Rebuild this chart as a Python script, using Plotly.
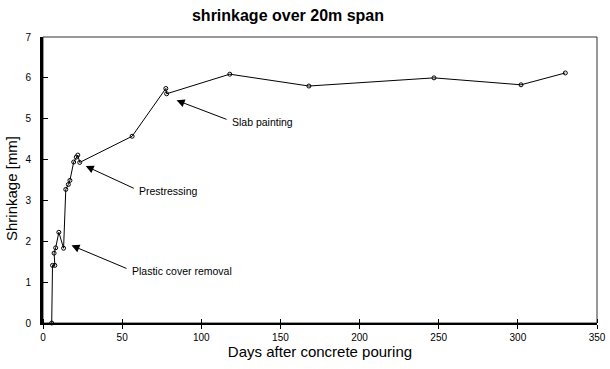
import plotly.graph_objects as go

# Data (days after pouring, shrinkage in mm)
days = [5.5, 6, 7.5, 7, 8, 10, 13, 14.4, 16, 17, 19.4, 21, 22, 23.2,
        56.3, 77.6, 78.1, 118, 168, 247, 302, 330]
shrinkage = [0, 1.41, 1.41, 1.71, 1.84, 2.22, 1.83, 3.27, 3.39, 3.49, 3.94, 4.06, 4.11, 3.93,
             4.57, 5.74, 5.61, 6.09, 5.80, 6.00, 5.83, 6.12]

x_ticks = [0, 50, 100, 150, 200, 250, 300, 350]
y_ticks = [0, 1, 2, 3, 4, 5, 6, 7]

# Event annotations: label, arrow tip (day, mm), text anchor (day, mm)
events = ["Slab painting", "Prestressing", "Plastic cover removal"]
event_tip_day = [84.4, 27, 18]
event_tip_mm = [5.45, 3.84, 1.90]
event_text_day = [118.1, 59.5, 54.9]
event_text_mm = [4.92, 3.23, 1.27]

W, H = 610, 369
ML, MR, MT, MB = 43, 13, 37, 46

fig = go.Figure()
fig.add_trace(go.Scatter(
    x=days, y=shrinkage, mode="lines+markers",
    line=dict(color="black", width=1),
    marker=dict(symbol="circle-open", size=4, color="black", line=dict(width=1)),
    showlegend=False, cliponaxis=False,
))

font = "Liberation Sans, Arial, sans-serif"

for lab, tx, ty, lx, ly in zip(events, event_tip_day, event_tip_mm, event_text_day, event_text_mm):
    fig.add_annotation(x=tx, y=ty, xref="x", yref="y", ax=lx - 1.2, ay=ly + 0.05,
                       axref="x", ayref="y", text="", showarrow=True,
                       arrowhead=2, arrowsize=1.6, arrowwidth=1, arrowcolor="black",
                       standoff=0, startstandoff=0)
    fig.add_annotation(x=lx, y=ly, xref="x", yref="y", text=lab, showarrow=False,
                       xanchor="left", yanchor="middle",
                       font=dict(family=font, size=10.5, color="black"))

# y-axis title placed as rotated text
pw, ph = W - ML - MR, H - MT - MB
fig.add_annotation(x=(11 - ML) / pw, y=(H - MB - 189) / ph, xref="paper", yref="paper",
                   text="Shrinkage [mm]", textangle=-90, showarrow=False,
                   xanchor="center", yanchor="middle",
                   font=dict(family=font, size=15, color="black"))

fig.add_shape(type="rect", xref="paper", yref="paper", x0=0, y0=0, x1=1, y1=1,
              line=dict(color="#333333", width=1), layer="below")

fig.update_layout(
    width=W, height=H,
    margin=dict(l=ML, r=MR, t=MT, b=MB, autoexpand=False),
    paper_bgcolor="white", plot_bgcolor="white",
    title=dict(text="<b>shrinkage over 20m span</b>", x=288 / W, xanchor="center",
               y=1 - 15 / H, yanchor="middle", yref="container",
               font=dict(family=font, size=16, color="black")),
    xaxis=dict(range=[0, 350], tickvals=x_ticks, ticks="outside", ticklen=4,
               tickcolor="black", showgrid=False, zeroline=False, automargin=False,
               showline=True, linecolor="black", linewidth=2,
               minor=dict(tickvals=[v + 0.01 for v in x_ticks], ticks="inside",
                          ticklen=4, tickcolor="black", showgrid=False),
               tickfont=dict(family=font, size=10, color="black"),
               title=dict(text="Days after concrete pouring", standoff=4,
                          font=dict(family=font, size=15, color="black"))),
    yaxis=dict(range=[0, 7], tickvals=y_ticks, ticks="inside", ticklen=5,
               tickcolor="black", showgrid=False, zeroline=False, automargin=False,
               showline=True, linecolor="black", linewidth=3, ticklabelstandoff=7,
               tickfont=dict(family=font, size=10, color="black")),
)

fig.write_html("out.html", config={"displayModeBar": False},
               post_script="document.body.style.margin='0';")
